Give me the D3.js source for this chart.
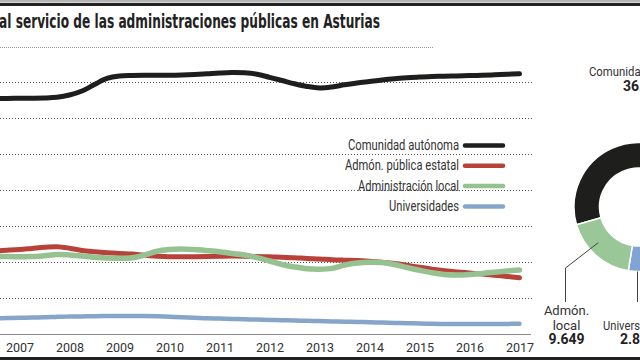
<!DOCTYPE html>
<html>
<head>
<meta charset="utf-8">
<script src="https://cdn.jsdelivr.net/npm/d3@7"></script>
<style>
  html, body { margin: 0; padding: 0; background: #fff; }
  svg { display: block; }
  text { font-family: Roboto, "Liberation Sans", sans-serif; }
  .title { font-family: "DejaVu Sans", sans-serif; font-stretch: condensed; }
</style>
</head>
<body>
<svg id="chart" width="640" height="360"></svg>
<script>
// ---- data ----
const title = "al servicio de las administraciones públicas en Asturias";
const yearTicks = [2007, 2008, 2009, 2010, 2011, 2012, 2013, 2014, 2015, 2016, 2017];
const quarters = [2006.5, 2006.75, 2007, 2007.25, 2007.5, 2007.75, 2008, 2008.25, 2008.5, 2008.75,
  2009, 2009.25, 2009.5, 2009.75, 2010, 2010.25, 2010.5, 2010.75, 2011, 2011.25, 2011.5, 2011.75,
  2012, 2012.25, 2012.5, 2012.75, 2013, 2013.25, 2013.5, 2013.75, 2014, 2014.25, 2014.5, 2014.75,
  2015, 2015.25, 2015.5, 2015.75, 2016, 2016.25, 2016.5, 2016.75, 2017];
const comunidad = [32710,32710,32740,32750,32780,32880,33190,33750,34650,35490,35830,35900,35930,35930,35930,35970,36040,36140,36250,36320,36280,36080,35650,35210,34750,34380,34170,34310,34610,34860,35070,35280,35450,35580,35690,35760,35810,35850,35890,35930,36000,36070,36140];
const estatal = [11530,11630,11740,11890,12040,12130,11920,11600,11420,11280,11180,11110,10930,10810,10740,10740,10740,10750,10790,10830,10810,10760,10720,10670,10600,10490,10420,10320,10260,10210,10100,9960,9790,9540,9260,9000,8780,8610,8470,8330,8170,7990,7820];
const local = [10760,10750,10740,10750,10880,11040,10970,10830,10650,10560,10510,10580,10970,11500,11740,11810,11720,11580,11420,11190,10970,10610,10140,9650,9310,9060,9000,9110,9560,9860,9960,9920,9650,9240,8850,8500,8260,8190,8260,8420,8580,8750,8890];
const universidades = [2180,2210,2250,2290,2330,2380,2420,2440,2470,2500,2510,2510,2500,2460,2390,2310,2250,2190,2140,2080,2040,2000,1960,1920,1880,1830,1790,1750,1710,1670,1630,1580,1540,1500,1460,1420,1390,1380,1380,1380,1390,1400,1420];
const seriesNames = ["Comunidad autónoma", "Admón. pública estatal", "Administración local", "Universidades"];
const seriesColors = ["#1e1e1c", "#b8423a", "#96c291", "#86a6c9"];
const legendWidths = [111, 114, 101, 70];
const gridValues = [5000, 10000, 15000, 20000, 25000, 30000, 35000];
// donut (2017)
const pieNames = ["Comunidad autónoma", "Admón. pública estatal", "Universidades", "Admón. local"];
const pieValues = [36136, 4870, 2856, 9649];
const pieLabels = ["36.136", "4.870", "2.856", "9.649"];
const pieColors = ["#1e1e1c", "#b8423a", "#80a4d4", "#9ac797"];

// ---- drawing ----
const svg = d3.select("#chart");

// top / bottom rules
svg.append("rect").attr("x", 0).attr("y", 0).attr("width", 640).attr("height", 2.5).attr("fill", "#b4b4b4");
svg.append("rect").attr("x", 0).attr("y", 3).attr("width", 640).attr("height", 3).attr("fill", "#222");
svg.append("rect").attr("x", 0).attr("y", 357).attr("width", 640).attr("height", 3).attr("fill", "#222");

svg.append("text").attr("class", "title").attr("x", -1).attr("y", 27.5)
  .attr("font-size", 20).attr("font-weight", "bold").attr("fill", "#222")
  .attr("textLength", 381).attr("lengthAdjust", "spacingAndGlyphs")
  .text(title);
svg.append("line").attr("x1", 0).attr("x2", 433).attr("y1", 47.5).attr("y2", 47.5)
  .attr("stroke", "#999").attr("stroke-dasharray", "1,1");

const x = d3.scaleLinear().domain([2007, 2017]).range([19.5, 519.5]);
const y = d3.scaleLinear().domain([0, 40000]).range([334, 46]);

// gridlines
svg.append("g").selectAll("line").data(gridValues).join("line")
  .attr("x1", 0).attr("x2", 532)
  .attr("y1", d => Math.round(y(d)) + 0.5).attr("y2", d => Math.round(y(d)) + 0.5)
  .attr("stroke", "#555").attr("stroke-dasharray", "1,2").attr("stroke-width", 1);

// x axis
const xAxis = d3.axisBottom(x).tickValues(yearTicks).tickFormat(d3.format("d")).tickSize(0).tickPadding(0);
const gx = svg.append("g").attr("transform", "translate(0,334)").call(xAxis);
gx.select(".domain").remove();
gx.attr("font-family", null);
gx.selectAll("text").attr("y", 17.5).attr("dy", 0).attr("font-size", 12.5).attr("fill", "#333");
svg.append("line").attr("x1", 0).attr("x2", 531).attr("y1", 334.5).attr("y2", 334.5).attr("stroke", "#8a8a8a");

// lines
const line = d3.line().x((d, i) => x(quarters[i])).y(d => y(d)).curve(d3.curveCatmullRom.alpha(0.5));
const allSeries = [comunidad, estatal, local, universidades];
const widths = [5, 5, 5.5, 4.5];
const order = [0, 3, 1, 2];
order.forEach(k => {
  svg.append("path").datum(allSeries[k]).attr("d", line)
    .attr("fill", "none").attr("stroke", seriesColors[k]).attr("stroke-width", widths[k])
    .attr("stroke-linecap", "round").attr("stroke-linejoin", "round");
});

// legend
const lg = svg.append("g");
seriesNames.forEach((name, i) => {
  const by = 150 + i * 20.3;
  lg.append("text").attr("x", 459).attr("y", by).attr("text-anchor", "end")
    .attr("font-size", 14).attr("fill", "#333")
    .attr("textLength", legendWidths[i]).attr("lengthAdjust", "spacingAndGlyphs").text(name);
  lg.append("line").attr("x1", 465).attr("x2", 503).attr("y1", by - 4.5).attr("y2", by - 4.5)
    .attr("stroke", seriesColors[i]).attr("stroke-width", 4.5).attr("stroke-linecap", "round");
});

// donut
const cx = 638.5, cy = 207, R = 64.5, r0 = 39;
const toRad = Math.PI / 180;
const pie = d3.pie().sort(null).startAngle(254 * toRad).endAngle(254 * toRad + 2 * Math.PI);
const arcs = pie(pieValues);
const arc = d3.arc().innerRadius(r0).outerRadius(R);
const gp = svg.append("g").attr("transform", `translate(${cx},${cy})`);
gp.selectAll("path").data(arcs).join("path")
  .attr("d", arc).attr("fill", (d, i) => pieColors[i]).attr("stroke", "#fff").attr("stroke-width", 1.5);

// donut labels
const lab = svg.append("g").attr("fill", "#333");
lab.append("text").attr("x", 645).attr("y", 76).attr("text-anchor", "middle").attr("font-size", 13)
  .attr("textLength", 112).attr("lengthAdjust", "spacingAndGlyphs").text(pieNames[0]);
lab.append("text").attr("x", 645).attr("y", 91).attr("text-anchor", "middle").attr("font-size", 14).attr("font-weight", "bold").attr("fill", "#222").text(pieLabels[0]);

// local
const gArc = arcs[3];
const gc = arc.centroid(gArc);
const gx0 = 565.5;
lab.append("polyline").attr("points", `${gx0},302 ${gx0},268 ${cx + gc[0] - 6},${cy + gc[1] - 3}`)
  .attr("fill", "none").attr("stroke", "#444").attr("stroke-width", 1);
lab.append("text").attr("x", 566.5).attr("y", 315).attr("text-anchor", "middle").attr("font-size", 13).text("Admón.");
lab.append("text").attr("x", 566.5).attr("y", 329.5).attr("text-anchor", "middle").attr("font-size", 13).text("local");
lab.append("text").attr("x", 566.5).attr("y", 344).attr("text-anchor", "middle").attr("font-size", 14).attr("font-weight", "bold").attr("fill", "#222").text(pieLabels[3]);

// universidades
const ux = 637;
const uy = cy + Math.sqrt(R * R - (ux - cx) * (ux - cx));
lab.append("line").attr("x1", ux + 0.5).attr("x2", ux + 0.5).attr("y1", 302).attr("y2", uy)
  .attr("stroke", "#444").attr("stroke-width", 1);
lab.append("text").attr("x", 638).attr("y", 329.5).attr("text-anchor", "middle").attr("font-size", 13)
  .attr("textLength", 70).attr("lengthAdjust", "spacingAndGlyphs").text(pieNames[2]);
lab.append("text").attr("x", 638).attr("y", 344).attr("text-anchor", "middle").attr("font-size", 14).attr("font-weight", "bold").attr("fill", "#222").text(pieLabels[2]);
</script>
</body>
</html>
